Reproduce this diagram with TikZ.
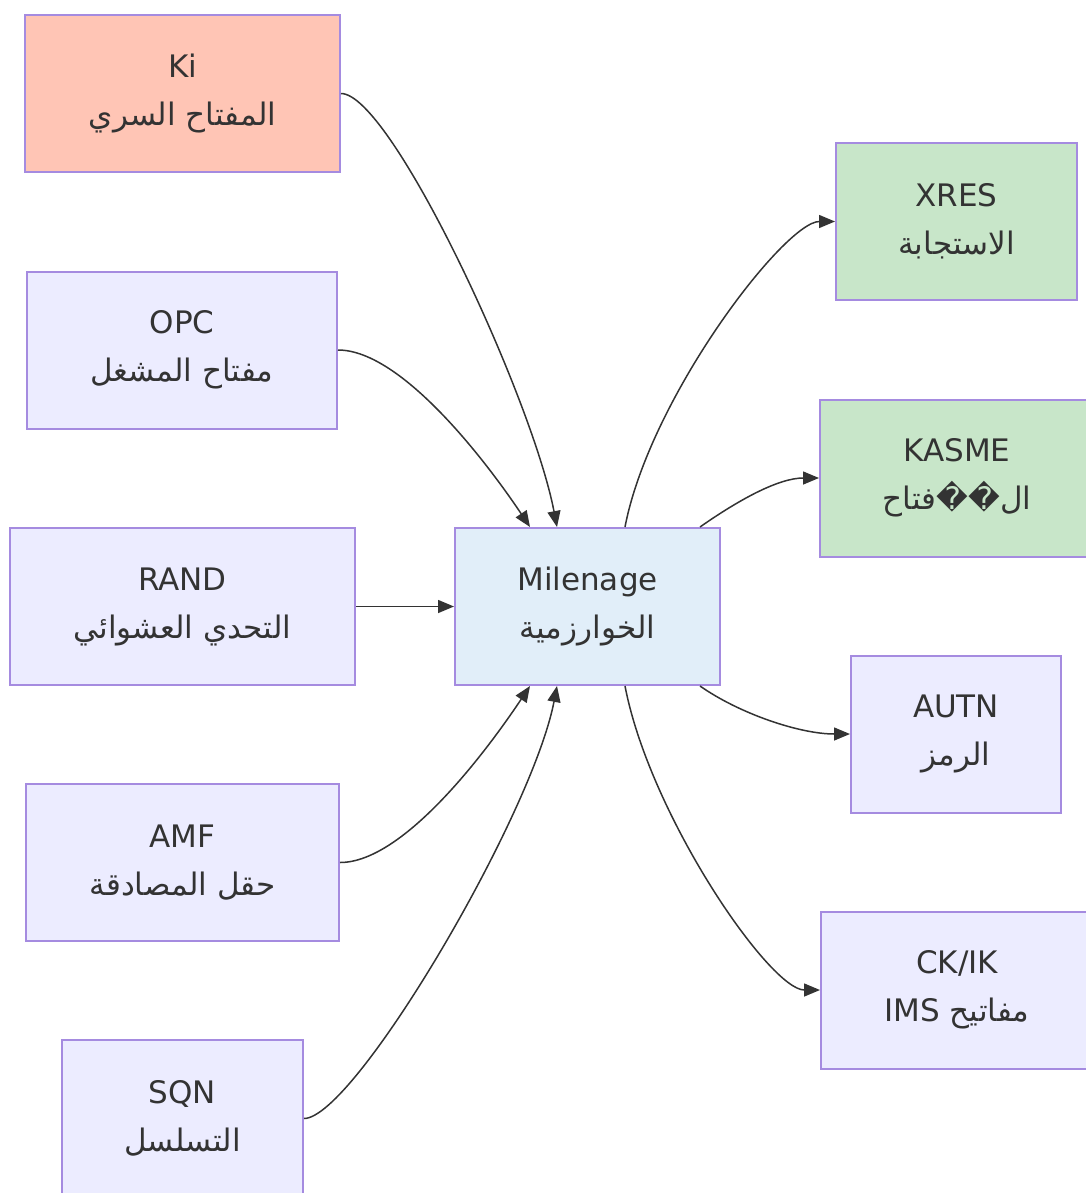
\documentclass[tikz,border=0pt]{standalone}
\usepackage{fontspec}
\setmainfont{DejaVu Sans}
\newfontfamily\arabicfont[Script=Arabic]{DejaVu Sans}
\TeXXeTstate=1
\usetikzlibrary{arrows.meta}
\definecolor{txt}{HTML}{333333}
\definecolor{bord}{HTML}{A58BE0}
\definecolor{defill}{HTML}{ECECFF}
\definecolor{keyfill}{HTML}{FFC5B5}
\definecolor{outfill}{HTML}{C8E6C9}
\definecolor{algfill}{HTML}{E1EEF9}
\newcommand{\ar}[1]{{\arabicfont\beginR #1\endR}}
\tikzset{
  x=1pt, y=-1pt,
  box/.style={draw=bord, line width=2pt, fill=defill, text=txt, align=center,
    font=\fontsize{31}{48}\selectfont, minimum height=157pt, inner sep=0pt},
  link/.style={draw=txt, line width=1.5pt, -{Triangle[length=16pt,width=13pt]}}
}
\begin{document}
\begin{tikzpicture}
\useasboundingbox (0,0) rectangle (1086,1193);
\clip (0,0) rectangle (1086,1193);
\node[box, fill=keyfill, minimum width=315pt] (ki) at (182.5,93.5) {Ki\\\ar{المفتاح السري}};
\node[box, minimum width=310pt] (opc) at (182,350) {OPC\\\ar{مفتاح المشغل}};
\node[box, minimum width=345pt] (rand) at (182.5,606.5) {RAND\\\ar{التحدي العشوائي}};
\node[box, minimum width=313pt] (amf) at (182.5,862.5) {AMF\\\ar{حقل المصادقة}};
\node[box, minimum width=241pt] (sqn) at (182.5,1118.5) {SQN\\\ar{التسلسل}};
\node[box, fill=algfill, minimum width=265pt] (mil) at (587.5,606.5) {Milenage\\\ar{الخوارزمية}};
\node[box, fill=outfill, minimum width=241pt] (xres) at (956.5,221.5) {XRES\\\ar{الاستجابة}};
\node[box, fill=outfill, minimum width=274pt] (kasme) at (957,478) {KASME\\\ar{ال��فتاح}};
\node[box, minimum width=210pt] (autn) at (956,734) {AUTN\\\ar{الرمز}};
\node[box, minimum width=272pt] (ckik) at (957,990) {CK/IK\\\ar{مفاتيح \beginL IMS\endL}};

\draw[link] (ki.east) .. controls +(50,0) and +(-25,-130) .. ([xshift=-30.5pt]mil.north);
\draw[link] (opc.east) .. controls +(65,0) and +(-40,-60) .. ([xshift=-57.5pt]mil.north);
\draw[link] (rand.east) -- (mil.west);
\draw[link] (amf.east) .. controls +(65,0) and +(-40,60) .. ([xshift=-57.5pt]mil.south);
\draw[link] (sqn.east) .. controls +(50,0) and +(-25,130) .. ([xshift=-30.5pt]mil.south);
\draw[link] ([xshift=37.5pt]mil.north) .. controls +(25,-130) and +(-50,0) .. (xres.west);
\draw[link] ([xshift=112.5pt]mil.north) .. controls +(40,-28) and +(-40,0) .. (kasme.west);
\draw[link] ([xshift=112.5pt]mil.south) .. controls +(40,28) and +(-50,0) .. (autn.west);
\draw[link] ([xshift=37.5pt]mil.south) .. controls +(25,130) and +(-50,0) .. (ckik.west);
\end{tikzpicture}
\end{document}
